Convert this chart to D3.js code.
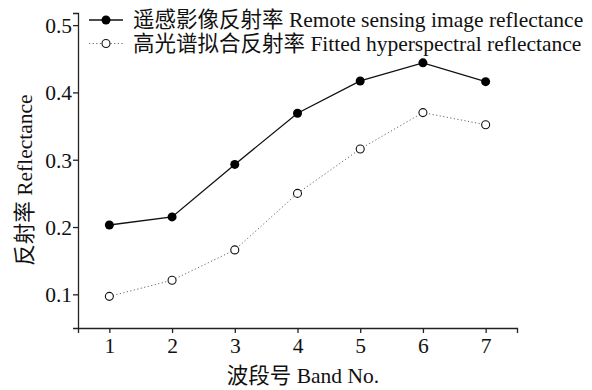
<!DOCTYPE html>
<html>
<head>
<meta charset="utf-8">
<script src="https://cdn.jsdelivr.net/npm/d3@7"></script>
<style>
  html, body { margin: 0; padding: 0; background: #fff; }
  svg text { font-family: "Liberation Serif", "Noto Sans CJK SC", serif; fill: #111; }
</style>
</head>
<body>
<svg id="chart" width="592" height="390"></svg>
<script>
// Band numbers and reflectance values
const bands = [1, 2, 3, 4, 5, 6, 7];
const remoteSensing = [0.203, 0.215, 0.293, 0.369, 0.417, 0.444, 0.416];
const fittedHyper = [0.097, 0.121, 0.166, 0.250, 0.316, 0.370, 0.352];
const yTicks = [0.1, 0.2, 0.3, 0.4, 0.5];
const seriesNames = ["遥感影像反射率 Remote sensing image reflectance", "高光谱拟合反射率 Fitted hyperspectral reflectance"];
const xTitle = "波段号 Band No.";
const yTitle = "反射率 Reflectance";

const svg = d3.select("#chart");
const plot = { left: 78, right: 517, top: 13, bottom: 328 };
const fontPx = "21.5px";

const x = d3.scaleLinear().domain([0.5, 7.5]).range([plot.left, plot.right]);
const y = d3.scaleLinear().domain([0.05, 0.518]).range([plot.bottom, plot.top]);

// axes
const xAxis = svg.append("g").attr("transform", `translate(0,${plot.bottom})`)
  .call(d3.axisBottom(x).tickValues(bands).tickFormat(d3.format("d")).tickSizeOuter(0).tickSize(5));
const yAxis = svg.append("g").attr("transform", `translate(${plot.left},0)`)
  .call(d3.axisLeft(y).tickValues(yTicks).tickFormat(d3.format(".1f")).tickSizeOuter(0).tickSize(5));
[xAxis, yAxis].forEach(g => {
  g.attr("font-size", null).attr("font-family", null);
  g.selectAll("path.domain").attr("stroke", "#222").attr("stroke-width", 1.3);
  g.selectAll(".tick line").attr("stroke", "#222").attr("stroke-width", 1.3);
  g.selectAll(".tick text").style("font-family", "'Liberation Serif', serif").style("font-size", fontPx).attr("fill", "#111");
});
xAxis.selectAll(".tick text").attr("y", 25).attr("dy", 0);
yAxis.selectAll(".tick text").attr("x", -6).attr("dy", "0.34em");

// axis titles
svg.append("text").attr("x", 303).attr("y", 383)
  .attr("text-anchor", "middle").style("font-size", fontPx).text(xTitle);
svg.append("text").attr("transform", `translate(32,180) rotate(-90)`)
  .attr("text-anchor", "middle").style("font-size", fontPx).text(yTitle);

const line = d3.line().x((d, i) => x(bands[i])).y(d => y(d));

// fitted hyperspectral (dotted)
svg.append("path").datum(fittedHyper).attr("d", line)
  .attr("fill", "none").attr("stroke", "#666").attr("stroke-width", 1).attr("stroke-dasharray", "1.2,2.4");
// remote sensing (solid)
svg.append("path").datum(remoteSensing).attr("d", line)
  .attr("fill", "none").attr("stroke", "#111").attr("stroke-width", 1.3);

svg.append("g").selectAll("circle").data(fittedHyper).join("circle")
  .attr("cx", (d, i) => x(bands[i])).attr("cy", d => y(d)).attr("r", 4)
  .attr("fill", "#fff").attr("stroke", "#111").attr("stroke-width", 1.1);
svg.append("g").selectAll("circle").data(remoteSensing).join("circle")
  .attr("cx", (d, i) => x(bands[i])).attr("cy", d => y(d)).attr("r", 4.5)
  .attr("fill", "#000");

// legend
const legend = svg.append("g");
const legY = [20, 43.5];
legend.append("line").attr("x1", 89).attr("x2", 123).attr("y1", legY[0]).attr("y2", legY[0])
  .attr("stroke", "#111").attr("stroke-width", 1.3);
legend.append("circle").attr("cx", 106).attr("cy", legY[0]).attr("r", 4.5).attr("fill", "#000");
legend.append("line").attr("x1", 89).attr("x2", 123).attr("y1", legY[1]).attr("y2", legY[1])
  .attr("stroke", "#666").attr("stroke-width", 1).attr("stroke-dasharray", "1.2,2.4");
legend.append("circle").attr("cx", 106).attr("cy", legY[1]).attr("r", 4)
  .attr("fill", "#fff").attr("stroke", "#111").attr("stroke-width", 1.1);
legend.selectAll("text.leg").data(seriesNames).join("text").attr("class", "leg")
  .attr("x", 133).attr("y", (d, i) => legY[i] + 7).style("font-size", fontPx).text(d => d);
</script>
</body>
</html>
